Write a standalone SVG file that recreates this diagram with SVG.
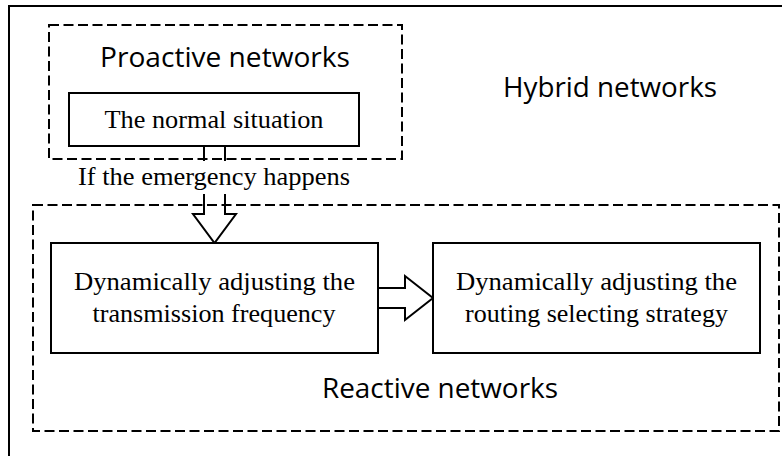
<svg xmlns="http://www.w3.org/2000/svg" width="782" height="456" viewBox="0 0 782 456">
<style>
.solid{fill:none;stroke:#000;stroke-width:2}
.dash{fill:none;stroke:#000;stroke-width:2;stroke-dasharray:10 4.5}
.box{fill:#fff;stroke:#000;stroke-width:2}
.sans{font-family:"Open Sans","Liberation Sans",sans-serif;font-size:27px;fill:#000}
.serif{font-family:"Liberation Serif","Times New Roman",serif;font-size:26px;fill:#000}
</style>
<rect width="782" height="456" fill="#fff"/>
<g id="hybrid">
<rect class="solid" x="9" y="6" width="800" height="480"/>
<text class="sans" x="503" y="97" textLength="214" lengthAdjust="spacingAndGlyphs">Hybrid networks</text>
</g>
<g id="proactive">
<rect class="dash" x="49" y="25" width="353" height="134"/>
<text class="sans" x="100" y="67" textLength="250" lengthAdjust="spacingAndGlyphs">Proactive networks</text>
</g>
<g id="reactive">
<rect class="dash" x="33" y="205" width="746" height="226"/>
<text class="sans" x="322" y="398" textLength="236" lengthAdjust="spacingAndGlyphs">Reactive networks</text>
</g>
<g id="connectors">
<path class="solid" d="M204,146 V214 H193 L214.5,243 L236,214 H225 V146"/>
<path class="solid" d="M378,288 H405 V276 L433,298 L405,320 V308 H378"/>
<rect x="74" y="161" width="280" height="33" fill="#fff"/>
<text class="serif" x="214" y="185" text-anchor="middle" textLength="272" lengthAdjust="spacingAndGlyphs">If the emergency happens</text>
</g>
<g id="normal">
<rect class="box" x="69" y="93" width="290" height="53"/>
<text class="serif" x="214" y="128" text-anchor="middle" textLength="219" lengthAdjust="spacingAndGlyphs">The normal situation</text>
</g>
<g id="freq">
<rect class="box" x="51" y="243" width="327" height="110"/>
<text class="serif" x="214.5" y="290" text-anchor="middle" textLength="281" lengthAdjust="spacingAndGlyphs">Dynamically adjusting the</text>
<text class="serif" x="214" y="322" text-anchor="middle" textLength="243" lengthAdjust="spacingAndGlyphs">transmission frequency</text>
</g>
<g id="routing">
<rect class="box" x="433" y="243" width="327" height="110"/>
<text class="serif" x="596.5" y="290" text-anchor="middle" textLength="281" lengthAdjust="spacingAndGlyphs">Dynamically adjusting the</text>
<text class="serif" x="596.5" y="322" text-anchor="middle">routing selecting strategy</text>
</g>
</svg>
